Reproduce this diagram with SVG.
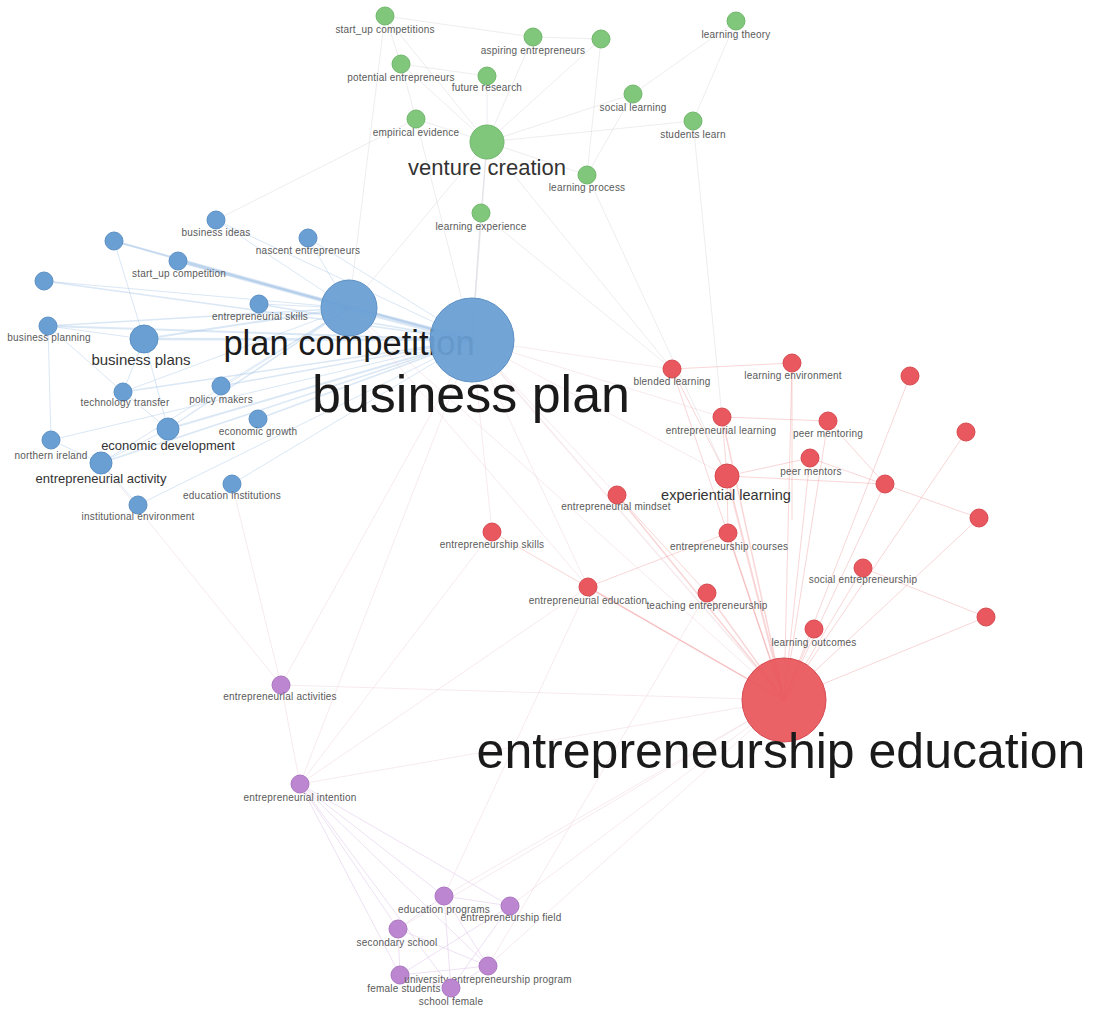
<svg xmlns="http://www.w3.org/2000/svg" width="1093" height="1012" viewBox="0 0 1093 1012">
<style>
text{font-family:"Liberation Sans",Arial,sans-serif;text-anchor:middle}
.s{font-size:10px;fill:#5a5a5a;letter-spacing:.2px}
.m{fill:#333}
.l{fill:#1a1a1a}
.g{fill:#80c77b;stroke:#6fb76b;stroke-width:1}
.b{fill:#6a9fd4;stroke:#5c90c4;stroke-width:1}
.r{fill:#e9585e;stroke:#d64a50;stroke-width:1}
.p{fill:#bc86d1;stroke:#a975bf;stroke-width:1}
line{stroke-linecap:round}
.eb{stroke:#9fc1e4;stroke-opacity:.38}
.er{stroke:#ef9296;stroke-opacity:.38}
.ep{stroke:#d6b8e2;stroke-opacity:.42}
.eg{stroke:#cfcfd8;stroke-opacity:.38}
.ex{stroke:#e9c9d0;stroke-opacity:.38}
</style>
<rect width="1093" height="1012" fill="#fff"/>
<g id="edges" stroke-width="1">
<!-- blue cluster -->
<line class="eb" x1="349" y1="308" x2="472" y2="340" stroke-width="5"/>
<line class="eb" x1="178" y1="261" x2="349" y2="308" stroke-width="3"/>
<line class="eb" x1="178" y1="261" x2="472" y2="340" stroke-width="2"/>
<line class="eb" x1="114" y1="241" x2="349" y2="308" stroke-width="2"/>
<line class="eb" x1="114" y1="241" x2="472" y2="340" stroke-width="1.5"/>
<line class="eb" x1="44" y1="281" x2="472" y2="340" stroke-width="1.5"/>
<line class="eb" x1="44" y1="281" x2="349" y2="308" stroke-width="1"/>
<line class="eb" x1="48" y1="326" x2="472" y2="340" stroke-width="2"/>
<line class="eb" x1="48" y1="326" x2="349" y2="308" stroke-width="1.5"/>
<line class="eb" x1="144" y1="339" x2="472" y2="340" stroke-width="2.5"/>
<line class="eb" x1="144" y1="339" x2="349" y2="308" stroke-width="2"/>
<line class="eb" x1="259" y1="304" x2="472" y2="340" stroke-width="1.5"/>
<line class="eb" x1="259" y1="304" x2="349" y2="308" stroke-width="1"/>
<line class="eb" x1="216" y1="220" x2="349" y2="308" stroke-width="1"/>
<line class="eb" x1="216" y1="220" x2="472" y2="340" stroke-width="1"/>
<line class="eb" x1="308" y1="238" x2="472" y2="340" stroke-width="1"/>
<line class="eb" x1="308" y1="238" x2="349" y2="308" stroke-width="1"/>
<line class="eb" x1="123" y1="392" x2="472" y2="340" stroke-width="1.5"/>
<line class="eb" x1="123" y1="392" x2="349" y2="308" stroke-width="1"/>
<line class="eb" x1="221" y1="386" x2="472" y2="340" stroke-width="1.5"/>
<line class="eb" x1="221" y1="386" x2="349" y2="308" stroke-width="1"/>
<line class="eb" x1="258" y1="419" x2="472" y2="340" stroke-width="1.5"/>
<line class="eb" x1="168" y1="429" x2="472" y2="340" stroke-width="2"/>
<line class="eb" x1="168" y1="429" x2="349" y2="308" stroke-width="1.5"/>
<line class="eb" x1="51" y1="440" x2="472" y2="340" stroke-width="1"/>
<line class="eb" x1="101" y1="463" x2="472" y2="340" stroke-width="1.5"/>
<line class="eb" x1="101" y1="463" x2="349" y2="308" stroke-width="1"/>
<line class="eb" x1="232" y1="484" x2="472" y2="340" stroke-width="1"/>
<line class="eb" x1="138" y1="505" x2="472" y2="340" stroke-width="1"/>
<line class="eb" x1="48" y1="326" x2="144" y2="339"/>
<line class="eb" x1="48" y1="326" x2="51" y2="440"/>
<line class="eb" x1="51" y1="440" x2="101" y2="463"/>
<line class="eb" x1="123" y1="392" x2="168" y2="429"/>
<line class="eb" x1="144" y1="339" x2="123" y2="392"/>
<line class="eb" x1="168" y1="429" x2="101" y2="463"/>
<line class="eb" x1="144" y1="339" x2="168" y2="429"/>
<line class="eb" x1="48" y1="326" x2="123" y2="392"/>
<line class="eb" x1="101" y1="463" x2="138" y2="505"/>
<line class="eb" x1="114" y1="241" x2="144" y2="339"/>
<!-- green cluster -->
<line class="eg" x1="385" y1="16" x2="401" y2="64"/>
<line class="eg" x1="401" y1="64" x2="416" y2="119"/>
<line class="eg" x1="416" y1="119" x2="472" y2="340"/>
<line class="eg" x1="385" y1="16" x2="487" y2="142"/>
<line class="eg" x1="533" y1="37" x2="487" y2="142"/>
<line class="eg" x1="601" y1="39" x2="487" y2="142"/>
<line class="eg" x1="601" y1="39" x2="587" y2="175"/>
<line class="eg" x1="487" y1="76" x2="487" y2="142"/>
<line class="eg" x1="401" y1="64" x2="487" y2="142"/>
<line class="eg" x1="416" y1="119" x2="487" y2="142"/>
<line class="eg" x1="633" y1="94" x2="487" y2="142"/>
<line class="eg" x1="736" y1="21" x2="633" y2="94"/>
<line class="eg" x1="633" y1="94" x2="587" y2="175"/>
<line class="eg" x1="693" y1="121" x2="487" y2="142"/>
<line class="eg" x1="487" y1="142" x2="587" y2="175"/>
<line class="eg" x1="487" y1="142" x2="481" y2="213"/>
<line class="eg" x1="487" y1="142" x2="472" y2="340" stroke-width="1.5"/>
<line class="eg" x1="481" y1="213" x2="472" y2="340" stroke-width="1.5"/>
<line class="eg" x1="487" y1="142" x2="349" y2="308"/>
<line class="eg" x1="385" y1="16" x2="533" y2="37"/>
<line class="eg" x1="533" y1="37" x2="601" y2="39"/>
<line class="eg" x1="401" y1="64" x2="487" y2="76"/>
<line class="eg" x1="587" y1="175" x2="727" y2="476"/>
<line class="eg" x1="693" y1="121" x2="722" y2="417"/>
<line class="eg" x1="481" y1="213" x2="672" y2="369"/>
<line class="eg" x1="385" y1="16" x2="349" y2="308"/>
<line class="eg" x1="416" y1="119" x2="216" y2="220"/>
<line class="eg" x1="487" y1="142" x2="672" y2="369"/>
<line class="eg" x1="736" y1="21" x2="693" y2="121"/>
<!-- red cluster -->
<line class="er" x1="784" y1="700" x2="672" y2="369"/>
<line class="er" x1="784" y1="700" x2="792" y2="363"/>
<line class="er" x1="784" y1="700" x2="910" y2="376"/>
<line class="er" x1="784" y1="700" x2="722" y2="417" stroke-width="1.5"/>
<line class="er" x1="784" y1="700" x2="828" y2="421"/>
<line class="er" x1="784" y1="700" x2="966" y2="432"/>
<line class="er" x1="784" y1="700" x2="810" y2="458"/>
<line class="er" x1="784" y1="700" x2="727" y2="476" stroke-width="2"/>
<line class="er" x1="784" y1="700" x2="885" y2="484"/>
<line class="er" x1="784" y1="700" x2="617" y2="495" stroke-width="1.5"/>
<line class="er" x1="784" y1="700" x2="979" y2="518"/>
<line class="er" x1="784" y1="700" x2="492" y2="532"/>
<line class="er" x1="784" y1="700" x2="728" y2="533" stroke-width="1.5"/>
<line class="er" x1="784" y1="700" x2="863" y2="568"/>
<line class="er" x1="784" y1="700" x2="986" y2="617"/>
<line class="er" x1="784" y1="700" x2="588" y2="587" stroke-width="1.5"/>
<line class="er" x1="784" y1="700" x2="707" y2="593" stroke-width="1.5"/>
<line class="er" x1="784" y1="700" x2="814" y2="629"/>
<line class="er" x1="672" y1="369" x2="792" y2="363"/>
<line class="er" x1="722" y1="417" x2="828" y2="421"/>
<line class="er" x1="727" y1="476" x2="810" y2="458"/>
<line class="er" x1="727" y1="476" x2="885" y2="484"/>
<line class="er" x1="722" y1="417" x2="727" y2="476"/>
<line class="er" x1="828" y1="421" x2="885" y2="484"/>
<line class="er" x1="810" y1="458" x2="979" y2="518"/>
<line class="er" x1="863" y1="568" x2="986" y2="617"/>
<line class="er" x1="727" y1="476" x2="728" y2="533"/>
<line class="er" x1="672" y1="369" x2="727" y2="476"/>
<line class="er" x1="792" y1="363" x2="792" y2="520"/>
<line class="er" x1="617" y1="495" x2="707" y2="593"/>
<line class="er" x1="588" y1="587" x2="728" y2="533"/>
<!-- cross cluster -->
<line class="ex" x1="472" y1="340" x2="784" y2="700" stroke-width="1.5"/>
<line class="ex" x1="472" y1="340" x2="617" y2="495"/>
<line class="ex" x1="472" y1="340" x2="588" y2="587"/>
<line class="ex" x1="472" y1="340" x2="722" y2="417"/>
<line class="ex" x1="472" y1="340" x2="672" y2="369"/>
<line class="ex" x1="472" y1="340" x2="492" y2="532"/>
<line class="ex" x1="472" y1="340" x2="727" y2="476"/>
<line class="ex" x1="472" y1="340" x2="300" y2="784"/>
<line class="ex" x1="472" y1="340" x2="281" y2="685"/>
<line class="ex" x1="349" y1="308" x2="588" y2="587"/>
<line class="ex" x1="349" y1="308" x2="784" y2="700"/>
<line class="ex" x1="232" y1="484" x2="281" y2="685"/>
<line class="ex" x1="101" y1="463" x2="281" y2="685"/>
<line class="ex" x1="281" y1="685" x2="784" y2="700"/>
<line class="ex" x1="300" y1="784" x2="784" y2="700"/>
<line class="ex" x1="281" y1="685" x2="300" y2="784"/>
<line class="ex" x1="300" y1="784" x2="588" y2="587"/>
<line class="ex" x1="444" y1="896" x2="784" y2="700"/>
<line class="ex" x1="510" y1="906" x2="784" y2="700"/>
<line class="ex" x1="488" y1="966" x2="784" y2="700"/>
<line class="ex" x1="398" y1="929" x2="784" y2="700"/>
<line class="ex" x1="444" y1="896" x2="588" y2="587"/>
<line class="ex" x1="488" y1="966" x2="707" y2="593"/>
<line class="ex" x1="300" y1="784" x2="492" y2="532"/>
<!-- purple cluster -->
<line class="ep" x1="300" y1="784" x2="444" y2="896"/>
<line class="ep" x1="300" y1="784" x2="510" y2="906"/>
<line class="ep" x1="300" y1="784" x2="398" y2="929"/>
<line class="ep" x1="300" y1="784" x2="488" y2="966"/>
<line class="ep" x1="300" y1="784" x2="400" y2="975"/>
<line class="ep" x1="300" y1="784" x2="451" y2="988"/>
<line class="ep" x1="444" y1="896" x2="510" y2="906"/>
<line class="ep" x1="444" y1="896" x2="398" y2="929"/>
<line class="ep" x1="444" y1="896" x2="488" y2="966"/>
<line class="ep" x1="444" y1="896" x2="451" y2="988"/>
<line class="ep" x1="510" y1="906" x2="451" y2="988"/>
<line class="ep" x1="510" y1="906" x2="400" y2="975"/>
<line class="ep" x1="398" y1="929" x2="488" y2="966"/>
<line class="ep" x1="398" y1="929" x2="400" y2="975"/>
<line class="ep" x1="400" y1="975" x2="488" y2="966"/>
<line class="ep" x1="451" y1="988" x2="488" y2="966"/>
<line class="ep" x1="400" y1="975" x2="451" y2="988"/>
</g>
<!-- green nodes -->
<g id="n-start-up-competitions"><circle class="g" cx="385" cy="16" r="9"/><text class="s" x="385" y="33">start_up competitions</text></g>
<g id="n-aspiring-entrepreneurs"><circle class="g" cx="533" cy="37" r="9"/><text class="s" x="533" y="54">aspiring entrepreneurs</text></g>
<g id="n-green-1"><circle class="g" cx="601" cy="39" r="9"/></g>
<g id="n-learning-theory"><circle class="g" cx="736" cy="21" r="9"/><text class="s" x="736" y="38">learning theory</text></g>
<g id="n-potential-entrepreneurs"><circle class="g" cx="401" cy="64" r="9"/><text class="s" x="401" y="81">potential entrepreneurs</text></g>
<g id="n-future-research"><circle class="g" cx="487" cy="76" r="9"/><text class="s" x="487" y="91">future research</text></g>
<g id="n-social-learning"><circle class="g" cx="633" cy="94" r="9"/><text class="s" x="633" y="111">social learning</text></g>
<g id="n-students-learn"><circle class="g" cx="693" cy="121" r="9"/><text class="s" x="693" y="138">students learn</text></g>
<g id="n-empirical-evidence"><circle class="g" cx="416" cy="119" r="9"/><text class="s" x="416" y="136">empirical evidence</text></g>
<g id="n-venture-creation"><circle class="g" cx="487" cy="142" r="17"/><text class="m" x="487" y="175" font-size="22">venture creation</text></g>
<g id="n-learning-process"><circle class="g" cx="587" cy="175" r="9"/><text class="s" x="587" y="191">learning process</text></g>
<g id="n-learning-experience"><circle class="g" cx="481" cy="213" r="9"/><text class="s" x="481" y="230">learning experience</text></g>
<!-- blue nodes -->
<g id="n-business-ideas"><circle class="b" cx="216" cy="220" r="9"/><text class="s" x="216" y="236">business ideas</text></g>
<g id="n-nascent-entrepreneurs"><circle class="b" cx="308" cy="238" r="9"/><text class="s" x="308" y="254">nascent entrepreneurs</text></g>
<g id="n-blue-1"><circle class="b" cx="114" cy="241" r="9"/></g>
<g id="n-start-up-competition"><circle class="b" cx="178" cy="261" r="9"/><text class="s" x="179" y="277">start_up competition</text></g>
<g id="n-blue-2"><circle class="b" cx="44" cy="281" r="9"/></g>
<g id="n-entrepreneurial-skills"><circle class="b" cx="259" cy="304" r="9"/><text class="s" x="260" y="320">entrepreneurial skills</text></g>
<g id="n-business-planning"><circle class="b" cx="48" cy="326" r="9"/><text class="s" x="49" y="341">business planning</text></g>
<g id="n-business-plans"><circle class="b" cx="144" cy="339" r="14"/><text class="m" x="141" y="365" font-size="15">business plans</text></g>
<g id="n-technology-transfer"><circle class="b" cx="123" cy="392" r="9"/><text class="s" x="125" y="406">technology transfer</text></g>
<g id="n-policy-makers"><circle class="b" cx="221" cy="386" r="9"/><text class="s" x="221" y="403">policy makers</text></g>
<g id="n-economic-growth"><circle class="b" cx="258" cy="419" r="9"/><text class="s" x="258" y="435">economic growth</text></g>
<g id="n-economic-development"><circle class="b" cx="168" cy="429" r="11"/><text class="m" x="168" y="450" font-size="13">economic development</text></g>
<g id="n-northern-ireland"><circle class="b" cx="51" cy="440" r="9"/><text class="s" x="51" y="459">northern ireland</text></g>
<g id="n-entrepreneurial-activity"><circle class="b" cx="101" cy="463" r="11"/><text class="m" x="101" y="483" font-size="13">entrepreneurial activity</text></g>
<g id="n-education-institutions"><circle class="b" cx="232" cy="484" r="9"/><text class="s" x="232" y="499">education institutions</text></g>
<g id="n-institutional-environment"><circle class="b" cx="138" cy="505" r="9"/><text class="s" x="138" y="520">institutional environment</text></g>
<g id="n-plan-competition"><circle class="b" cx="349" cy="308" r="28" fill-opacity=".95"/><text class="l" x="349" y="355" font-size="34.5">plan competition</text></g>
<g id="n-business-plan"><circle class="b" cx="472" cy="340" r="42" fill-opacity=".95"/><text class="l" x="471" y="412" font-size="52">business plan</text></g>
<!-- red nodes -->
<g id="n-blended-learning"><circle class="r" cx="672" cy="369" r="9"/><text class="s" x="672" y="385">blended learning</text></g>
<g id="n-learning-environment"><circle class="r" cx="792" cy="363" r="9"/><text class="s" x="793" y="379">learning environment</text></g>
<g id="n-red-1"><circle class="r" cx="910" cy="376" r="9"/></g>
<g id="n-entrepreneurial-learning"><circle class="r" cx="722" cy="417" r="9"/><text class="s" x="721" y="434">entrepreneurial learning</text></g>
<g id="n-peer-mentoring"><circle class="r" cx="828" cy="421" r="9"/><text class="s" x="828" y="437">peer mentoring</text></g>
<g id="n-red-2"><circle class="r" cx="966" cy="432" r="9"/></g>
<g id="n-peer-mentors"><circle class="r" cx="810" cy="458" r="9"/><text class="s" x="811" y="475">peer mentors</text></g>
<g id="n-experiential-learning"><circle class="r" cx="727" cy="476" r="12"/><text class="m" x="726" y="500" font-size="14.5" fill="#444">experiential learning</text></g>
<g id="n-red-3"><circle class="r" cx="885" cy="484" r="9"/></g>
<g id="n-entrepreneurial-mindset"><circle class="r" cx="617" cy="495" r="9"/><text class="s" x="616" y="510">entrepreneurial mindset</text></g>
<g id="n-red-4"><circle class="r" cx="979" cy="518" r="9"/></g>
<g id="n-entrepreneurship-skills"><circle class="r" cx="492" cy="532" r="9"/><text class="s" x="492" y="548">entrepreneurship skills</text></g>
<g id="n-entrepreneurship-courses"><circle class="r" cx="728" cy="533" r="9"/><text class="s" x="729" y="550">entrepreneurship courses</text></g>
<g id="n-social-entrepreneurship"><circle class="r" cx="863" cy="568" r="9"/><text class="s" x="863" y="583">social entrepreneurship</text></g>
<g id="n-red-5"><circle class="r" cx="986" cy="617" r="9"/></g>
<g id="n-entrepreneurial-education"><circle class="r" cx="588" cy="587" r="9"/><text class="s" x="588" y="604">entrepreneurial education</text></g>
<g id="n-teaching-entrepreneurship"><circle class="r" cx="707" cy="593" r="9"/><text class="s" x="707" y="609">teaching entrepreneurship</text></g>
<g id="n-learning-outcomes"><circle class="r" cx="814" cy="629" r="9"/><text class="s" x="814" y="646">learning outcomes</text></g>
<g id="n-entrepreneurship-education"><circle class="r" cx="784" cy="700" r="42" fill-opacity=".95"/><text class="l" x="781" y="768" font-size="50">entrepreneurship education</text></g>
<!-- purple nodes -->
<g id="n-entrepreneurial-activities"><circle class="p" cx="281" cy="685" r="9"/><text class="s" x="280" y="700">entrepreneurial activities</text></g>
<g id="n-entrepreneurial-intention"><circle class="p" cx="300" cy="784" r="9"/><text class="s" x="300" y="801">entrepreneurial intention</text></g>
<g id="n-education-programs"><circle class="p" cx="444" cy="896" r="9"/><text class="s" x="444" y="913">education programs</text></g>
<g id="n-entrepreneurship-field"><circle class="p" cx="510" cy="906" r="9"/><text class="s" x="511" y="921">entrepreneurship field</text></g>
<g id="n-secondary-school"><circle class="p" cx="398" cy="929" r="9"/><text class="s" x="397" y="946">secondary school</text></g>
<g id="n-female-students"><circle class="p" cx="400" cy="975" r="9"/><text class="s" x="404" y="992">female students</text></g>
<g id="n-university-entrepreneurship-program"><circle class="p" cx="488" cy="966" r="9"/><text class="s" x="488" y="983">university entrepreneurship program</text></g>
<g id="n-school-female"><circle class="p" cx="451" cy="988" r="9"/><text class="s" x="451" y="1005">school female</text></g>
</svg>
